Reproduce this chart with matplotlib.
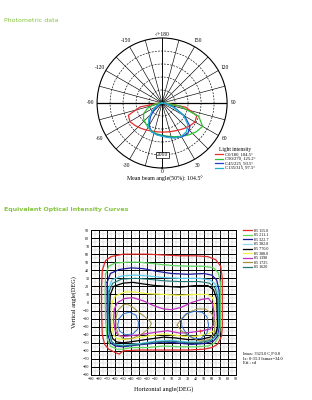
import numpy as np
import matplotlib
matplotlib.use('Agg')
import matplotlib.pyplot as plt

# polar light distribution (angle deg, intensity cd)
c0_ang = [-90, -80, -70, -60, -50, -40, -30, -20, -10, 0, 10, 20, 30, 40, 50, 60, 70, 80, 90]
c0_cd = [100, 850, 1380, 1430, 1350, 1270, 1200, 1150, 1125, 1120, 1130, 1160, 1210, 1290, 1380, 1460, 1420, 920, 100]
c90_cd = [50, 300, 600, 820, 930, 1000, 1080, 1150, 1200, 1240, 1300, 1380, 1480, 1600, 1720, 1800, 1500, 700, 100]
c45_cd = [0, 20, 80, 200, 420, 700, 1000, 1180, 1230, 1260, 1330, 1420, 1500, 1540, 1400, 1000, 500, 150, 0]
c135_cd = [0, 30, 120, 300, 520, 800, 1050, 1180, 1240, 1280, 1350, 1430, 1480, 1450, 1300, 950, 450, 150, 0]
polar_labels = ['C0/180, 104.5°', 'C90/270, 125.2°', 'C45/225, 93.5°', 'C135/315, 97.5°']
polar_colors = ['#e03030', '#30c030', '#2040d0', '#20b0d0']
angle_ticks = [0, 30, 60, 90, 120, 150, 180, -150, -120, -90, -60, -30]
angle_names = ['0', '30', '60', '90', '120', '150', '-/+180', '-150', '-120', '-90', '-60', '-30']

# iso-intensity contours (horizontal deg, vertical deg)
red_x = [-76, -72, -65, -50, -35, -20, 0, 20, 40, 55, 65, 71, 73, 73, 73, 72, 67, 60, 50, 30, 0, -30, -50, -55, -60, -68, -73, -76, -77, -77, -76]
red_y = [40, 52, 57, 60, 60, 60, 59, 58, 58, 57, 53, 45, 30, 0, -30, -42, -52, -56, -58, -59, -59, -59, -60, -64, -62, -58, -52, -40, -10, 20, 40]
green_x = [-72, -68, -60, -45, -30, -10, 10, 30, 50, 62, 68, 70.5, 70.5, 69, 64, 55, 40, 20, 0, -20, -40, -50, -58, -66, -70, -72, -72.5, -72]
green_y = [35, 45, 49, 50, 50, 48, 46, 45, 45, 43, 37, 25, -30, -42, -50, -54, -55, -55, -54, -56, -56, -58, -58, -54, -45, -20, 10, 35]
navy_x = [-70, -66, -55, -40, -25, -10, 10, 30, 50, 60, 66, 69, 69, 67, 62, 50, 35, 15, 0, -15, -35, -50, -60, -66, -69, -70, -70]
navy_y = [25, 36, 41, 43, 42, 39, 36, 35, 36, 34, 28, 15, -30, -42, -48, -51, -52, -50, -49, -51, -53, -55, -54, -50, -40, -10, 25]
cyan_x = [-68, -64, -52, -35, -20, 0, 20, 45, 58, 65, 68, 68, 66, 60, 45, 30, 10, -10, -30, -50, -60, -65, -68, -68.5, -68]
cyan_y = [18, 28, 33, 34, 33, 31, 30, 30, 28, 22, 10, -30, -40, -46, -49, -49, -47, -48, -51, -53, -52, -48, -38, -10, 18]
teal_x = [-67.5, -63, -52, -35, -20, 0, 20, 45, 57, 64, 67.5, 67.5, 65, 59, 45, 30, 10, -10, -30, -50, -59, -64, -67, -68, -67.5]
teal_y = [14, 24, 29, 30, 29, 27, 26, 26, 24, 18, 6, -31, -41, -47, -50, -50, -48, -49, -52, -54, -53, -49, -39, -10, 14]
black_x = [-66, -62, -50, -38, -25, -10, 5, 20, 40, 55, 62, 66, 67, 65, 58, 45, 30, 15, 0, -15, -35, -50, -58, -63, -66, -67, -66]
black_y = [10, 20, 24, 25, 23, 21, 20, 19, 21, 21, 16, 5, -30, -38, -43, -46, -46, -44, -43, -45, -48, -50, -49, -45, -35, -10, 10]
yellow_x = [-64, -60, -48, -35, -20, 0, 20, 40, 55, 61, 64, 65, 63, 55, 40, 25, 10, 0, -15, -35, -50, -58, -62, -64, -64.5, -64]
yellow_y = [0, 8, 13, 13, 11, 10, 9, 10, 10, 6, -5, -28, -35, -39, -42, -42, -40, -39, -41, -44, -46, -45, -40, -30, -10, 0]
magenta_x = [-61, -57, -48, -38, -25, -12, 0, 10, 22, 35, 48, 56, 61, 63, 62, 58, 48, 35, 20, 5, -10, -30, -48, -56, -60, -62, -61]
magenta_y = [-8, 0, 5, 6, 2, -4, -8, -9, -6, 0, 4, 5, -2, -15, -28, -33, -35, -37, -38, -35, -37, -40, -42, -41, -35, -22, -8]
olive_lx = [-57, -50, -45, -38, -28, -18, -15, -18, -28, -40, -50, -56, -59, -59, -57]
olive_ly = [-10, -3, -2, -6, -14, -22, -26, -32, -40, -45, -45, -40, -30, -20, -10]
olive_rx = [17, 22, 32, 42, 52, 60, 64, 63, 57, 45, 32, 22, 17]
olive_ry = [-28, -20, -12, -8, -8, -14, -25, -38, -46, -48, -42, -35, -28]
blue_lx = [-55, -50, -42, -34, -31, -32, -38, -47, -54, -57, -55]
blue_ly = [-20, -14, -12, -16, -25, -33, -39, -40, -36, -28, -20]
blue_rx = [22, 28, 38, 48, 54, 56, 54, 46, 36, 28, 23, 22]
blue_ry = [-22, -14, -11, -12, -18, -28, -38, -45, -44, -38, -30, -22]
peak_x = [45]
peak_y = [-35]

legend_names = ['85 115.0', '85 211.1', '85 322.7', '85 382.8', '85 770.0', '85 388.0', '85 1390', '85 1725', '85 1620']
legend_colors = ['#e02828', '#60d860', '#1a1a9a', '#8fd8f0', '#000000', '#f0f040', '#c030c0', '#a09040', '#207878']

serif = 'Liberation Serif'
green_title = '#86c440'

fig = plt.figure(figsize=(3.12, 4.0), dpi=100)

fig.text(0.013, 0.95, 'Photometric data', color=green_title, fontsize=4.5, va='center')
fig.text(0.013, 0.475, 'Equivalent Optical Intensity Curves', color=green_title, fontsize=4.5,
         va='center', fontweight='bold')

# ---- polar plot
ax = fig.add_axes([0.311, 0.58, 0.417, 0.325], projection='polar')
ax.set_theta_zero_location('S')
ax.set_rlim(0, 2500)
ax.set_rticks([500, 1000, 1500, 2000])
ax.set_yticklabels([])
ax.set_thetagrids(np.arange(0, 360, 15), labels=[''] * 24)
ax.grid(True, color='k', lw=0.45)
for gl in ax.yaxis.get_gridlines():
    gl.set_linestyle((0, (3, 2)))
ax.spines['polar'].set_linewidth(0.8)
ax.plot([np.pi / 2, np.pi / 2], [0, 2500], color='k', lw=0.9)
ax.plot([-np.pi / 2, -np.pi / 2], [0, 2500], color='k', lw=0.9)
ax.plot([0, 0], [0, 2500], color='k', lw=0.6)
ax.plot([np.pi, np.pi], [0, 2500], color='k', lw=0.6)

for cd, lab, col in zip([c0_cd, c90_cd, c45_cd, c135_cd], polar_labels, polar_colors):
    ax.plot(np.deg2rad(c0_ang), cd, color=col, lw=0.9, label=lab)

for a, name in zip(angle_ticks, angle_names):
    rr = 2620 if a in (0, 180) else 2760
    ax.text(np.deg2rad(a), rr, name, fontsize=4, family=serif, ha='center', va='center')
ax.text(0, 2000, '2000', fontsize=4, family=serif, ha='center', va='center',
        bbox=dict(facecolor='white', edgecolor='k', lw=0.5, pad=0.6))

leg = fig.legend(loc='upper left', bbox_to_anchor=(0.68, 0.64), fontsize=3.3, frameon=False,
                 title='Light intensity', title_fontsize=4, handlelength=1.6, labelspacing=0.05,
                 handletextpad=0.4, borderpad=0.2, prop={'family': serif, 'size': 3.3})
leg.get_title().set_family(serif)

fig.text(0.53, 0.553, 'Mean beam angle(50%): 104.5°', fontsize=4.2, family=serif, ha='center', va='center')

# ---- iso-intensity chart
ax2 = fig.add_axes([0.2917, 0.0625, 0.4647, 0.3625])
ax2.set_xlim(-90, 90)
ax2.set_ylim(-90, 90)
ticks = np.arange(-90, 91, 10)
ax2.set_xticks(ticks)
ax2.set_yticks(ticks)
ax2.set_xticks(np.arange(-90, 91, 5), minor=True)
ax2.set_yticks(np.arange(-90, 91, 5), minor=True)
ax2.tick_params(which='both', length=0, labelsize=3, pad=1.2)
for t in ax2.get_xticklabels() + ax2.get_yticklabels():
    t.set_family(serif)
ax2.grid(True, which='major', color='k', lw=0.7)
ax2.grid(True, which='minor', color='#c8c8c8', lw=0.35)
ax2.set_axisbelow(True)
for s in ax2.spines.values():
    s.set_linewidth(0.7)

ax2.plot(red_x, red_y, color=legend_colors[0], lw=0.9)
ax2.plot(green_x, green_y, color=legend_colors[1], lw=0.9)
ax2.plot(navy_x, navy_y, color=legend_colors[2], lw=0.9)
ax2.plot(cyan_x, cyan_y, color='#5ccdf0', lw=0.9)
ax2.plot(teal_x, teal_y, color=legend_colors[8], lw=0.8)
ax2.plot(black_x, black_y, color=legend_colors[4], lw=0.9)
ax2.plot(yellow_x, yellow_y, color=legend_colors[5], lw=0.9)
ax2.plot(magenta_x, magenta_y, color=legend_colors[6], lw=0.9)
ax2.plot(olive_lx, olive_ly, color=legend_colors[7], lw=0.7)
ax2.plot(olive_rx, olive_ry, color=legend_colors[7], lw=0.7)
ax2.plot(blue_lx, blue_ly, color='#3070d0', lw=0.7)
ax2.plot(blue_rx, blue_ry, color='#3070d0', lw=0.7)
ax2.plot(peak_x, peak_y, marker='+', color='#e03030', ms=3, mew=0.5, ls='none')

ax2.set_xlabel('Horizontal angle(DEG)', fontsize=4.5, family=serif, labelpad=4)
ax2.set_ylabel('Vertical angle(DEG)', fontsize=4.5, family=serif, labelpad=4)

handles = [plt.Line2D([], [], color=c, lw=0.9) for c in legend_colors]
fig.legend(handles, legend_names, loc='upper left', bbox_to_anchor=(0.77, 0.435), frameon=False,
           handlelength=2.2, labelspacing=0.15, handletextpad=0.6, borderpad=0.1,
           prop={'family': serif, 'size': 3})

fig.text(0.78, 0.103, 'Imax: 3323.0 C,P 0.0\nIx: 0-33.3 Ixmax=34.0\nEff.: cd', fontsize=3.2,
         family=serif, va='center', linespacing=1.2)

fig.savefig('out.png', dpi=100)
